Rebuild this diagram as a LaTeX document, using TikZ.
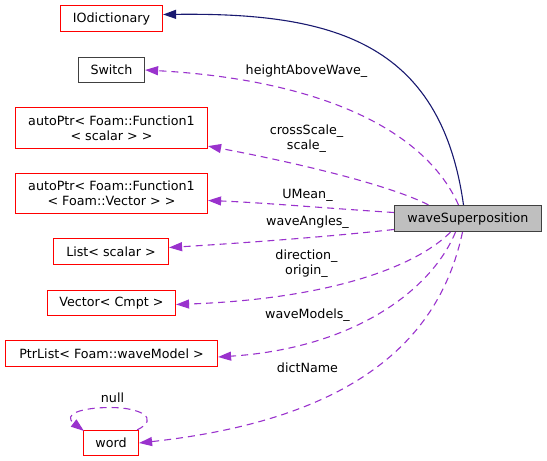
\documentclass[tikz,border=0pt]{standalone}
\usepackage{fontspec}
\setmainfont{DejaVu Sans}
\usetikzlibrary{arrows.meta}
\definecolor{edgepurple}{HTML}{9A32CD}
\definecolor{edgenavy}{HTML}{191970}
\definecolor{boxred}{HTML}{FF0000}
\definecolor{boxgray}{HTML}{404040}
\definecolor{fillgray}{HTML}{BFBFBF}

\begin{document}
\begin{tikzpicture}[
  x=1pt,y=-1pt,
  classbox/.style={draw=boxred,line width=1.2pt,inner sep=0pt,align=center},
  member/.style={-{Triangle[length=13pt,width=9pt]},edgepurple,line width=1.1pt,dash pattern=on 7pt off 5pt},
  inherit/.style={-{Triangle[length=13pt,width=9pt]},edgenavy,line width=1.1pt},
  every node/.append style={font=\fontsize{12.7}{15}\selectfont}
]
  \useasboundingbox (0,0) rectangle (547,461);
  \begin{scope}[xshift=0.5pt,yshift=-0.5pt]
  \node[classbox,minimum width=102pt,minimum height=26pt] (iodict) at (111,18) {IOdictionary};
  \node[classbox,draw=boxgray,minimum width=66pt,minimum height=25pt] (switch) at (111,69.5) {Switch};
  \node[classbox,minimum width=192pt,minimum height=41pt] (fnscalar) at (111,127.5) {autoPtr< Foam::Function1\\< scalar > >};
  \node[classbox,minimum width=192pt,minimum height=40pt] (fnvector) at (111,193) {autoPtr< Foam::Function1\\< Foam::Vector > >};
  \node[classbox,minimum width=115pt,minimum height=26pt] (listscalar) at (110.5,251) {List< scalar >};
  \node[classbox,minimum width=128pt,minimum height=25pt] (vectorcmpt) at (111,302.5) {Vector< Cmpt >};
  \node[classbox,minimum width=212pt,minimum height=26pt] (ptrlist) at (111,353) {PtrList< Foam::waveModel >};
  \node[classbox,minimum width=55pt,minimum height=25pt] (word) at (110.5,442.5) {word};
  \node[classbox,draw=boxgray,fill=fillgray,minimum width=147pt,minimum height=26pt] (wavesup) at (467.5,218) {waveSuperposition};

  % base class
  \draw[inherit] ([xshift=-4.5pt]wavesup.north) .. controls (440,40) and (330,12) .. ([yshift=4pt]iodict.east);

  % data members
  \draw[member] ([xshift=-9.5pt]wavesup.north) .. controls (420,120) and (300,78) .. (switch.east);
  \node (lblheight) at (306,71) {heightAboveWave\_};
  \draw[member] ([xshift=-39.5pt]wavesup.north) .. controls (390,185) and (300,163) .. ([yshift=3pt]fnscalar.south east);
  \node[align=center] (lblscale) at (306,138) {crossScale\_\\scale\_};
  \draw[member] ([yshift=6pt]wavesup.west) .. controls (330,208) and (260,202) .. ([yshift=-7pt]fnvector.east);
  \node (lblumean) at (307,195) {UMean\_};
  \draw[member] ([yshift=-11pt]wavesup.west) .. controls (330,236) and (250,242) .. ([yshift=4pt]listscalar.east);
  \node (lblangles) at (307,222) {waveAngles\_};
  \draw[member] ([xshift=-17.5pt]wavesup.south) .. controls (420,262) and (340,298) .. ([yshift=-1.5pt]vectorcmpt.east);
  \node[align=center] (lbldir) at (306,263.5) {direction\_\\origin\_};
  \draw[member] ([xshift=-12.5pt]wavesup.south) .. controls (430,292) and (350,348) .. ([yshift=-3.5pt]ptrlist.east);
  \node (lblmodels) at (307,315) {waveModels\_};
  \draw[member] ([xshift=-5.5pt]wavesup.south) .. controls (440,335) and (360,418) .. (word.east);
  \node (lbldict) at (307,367) {dictName};

  % self reference
  \draw[member] ([xshift=-2pt]word.north east) .. controls (160,418) and (140,407) .. (110,407)
    .. controls (80,407) and (62,414) .. ([xshift=1pt,yshift=-1pt]word.north west);
  \node (lblnull) at (112,397) {null};
  \end{scope}
\end{tikzpicture}
\end{document}
